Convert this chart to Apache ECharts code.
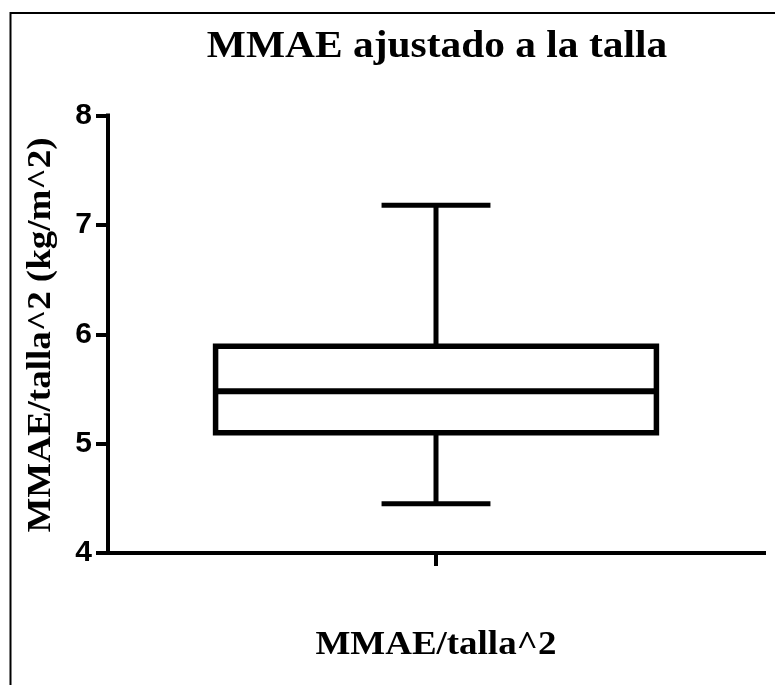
<!DOCTYPE html>
<html>
<head>
<meta charset="utf-8">
<script src="https://cdn.jsdelivr.net/npm/echarts@6/dist/echarts.min.js"></script>
<style>
  html, body { margin: 0; padding: 0; background: #fff; }
  #chart { width: 775px; height: 685px; }
</style>
</head>
<body>
<div id="chart"></div>
<script>
// Texts
const chartTitle = 'MMAE ajustado a la talla';
const yAxisTitle = 'MMAE/talla^2 (kg/m^2)';

// One column, summarised as a box-and-whisker (min to max)
const categories = ['MMAE/talla^2'];
const whiskerLow = [4.45];
const quartile1 = [5.10];
const medians = [5.48];
const quartile3 = [5.89];
const whiskerHigh = [7.18];

// Value axis
const yMin = 4;
const yMax = 8;
const yStep = 1;

const serif = '"Liberation Serif", "Times New Roman", serif';
const sans = '"Liberation Sans", Arial, sans-serif';
const textStretch = 1.12;   // wide lettering along the text direction

// Column i sits at x = i on a value axis spanning one unit per column
const boxData = categories.map((c, i) => [
  i, whiskerLow[i], quartile1[i], medians[i], quartile3[i], whiskerHigh[i]
]);
const columnPositions = categories.map((c, i) => i);

function renderBox(params, api) {
  const i = api.value(0);
  const band = api.size([1, 0])[0];
  const half = band * 0.336;
  const capHalf = band * 0.083;
  const pLow = api.coord([i, api.value(1)]);
  const pQ1 = api.coord([i, api.value(2)]);
  const pMed = api.coord([i, api.value(3)]);
  const pQ3 = api.coord([i, api.value(4)]);
  const pHigh = api.coord([i, api.value(5)]);
  const cx = pMed[0];
  const ink = { stroke: '#000', lineWidth: 5, fill: null };
  return {
    type: 'group',
    children: [
      { type: 'line', shape: { x1: cx, y1: pQ3[1], x2: cx, y2: pHigh[1] }, style: ink },
      { type: 'line', shape: { x1: cx, y1: pQ1[1], x2: cx, y2: pLow[1] }, style: ink },
      { type: 'line', shape: { x1: cx - capHalf, y1: pHigh[1], x2: cx + capHalf, y2: pHigh[1] }, style: ink },
      { type: 'line', shape: { x1: cx - capHalf, y1: pLow[1], x2: cx + capHalf, y2: pLow[1] }, style: ink },
      {
        type: 'rect',
        shape: { x: cx - half, y: pQ3[1], width: half * 2, height: pQ1[1] - pQ3[1] },
        style: { stroke: '#000', lineWidth: 5.5, fill: '#fff' }
      },
      { type: 'line', shape: { x1: cx - half, y1: pMed[1], x2: cx + half, y2: pMed[1] }, style: { stroke: '#000', lineWidth: 6 } }
    ]
  };
}

const chart = echarts.init(document.getElementById('chart'), null, { renderer: 'canvas' });

chart.setOption({
  animation: false,
  backgroundColor: '#fff',
  grid: { left: 108, right: 11, top: 115.5, bottom: 132, containLabel: false },
  xAxis: {
    type: 'value',
    min: -0.5,
    max: categories.length - 0.5,
    axisLine: { onZero: false, lineStyle: { color: '#000', width: 4, cap: 'square' } },
    axisTick: { show: true, customValues: columnPositions, length: 13, lineStyle: { color: '#000', width: 4 } },
    axisLabel: { show: false },
    splitLine: { show: false }
  },
  yAxis: {
    type: 'value',
    min: yMin,
    max: yMax,
    interval: yStep,
    axisLine: { show: true, onZero: false, lineStyle: { color: '#000', width: 4, cap: 'square' } },
    axisTick: { show: true, length: 12, lineStyle: { color: '#000', width: 4 } },
    axisLabel: {
      color: '#000', fontFamily: sans, fontWeight: 'bold', fontSize: 30, margin: 16,
      padding: [0, 0, 5, 0]
    },
    splitLine: { show: false }
  },
  series: [{
    type: 'custom',
    renderItem: renderBox,
    data: boxData,
    encode: { x: 0, y: [1, 2, 3, 4, 5] },
    z: 3
  }],
  graphic: [
    {
      type: 'rect', silent: true, z: -1,
      shape: { x: 10.5, y: 13, width: 800, height: 700 },
      style: { fill: 'none', stroke: '#000', lineWidth: 2 }
    },
    {
      type: 'text', x: 437, y: 47, scaleX: textStretch,
      style: { text: chartTitle, font: 'bold 37px ' + serif, fill: '#000', textAlign: 'center', textVerticalAlign: 'middle' }
    },
    {
      type: 'text', x: 436, y: 645, scaleX: textStretch,
      style: { text: categories[0], font: 'bold 33px ' + serif, fill: '#000', textAlign: 'center', textVerticalAlign: 'middle' }
    },
    {
      type: 'text', x: 41, y: 335, rotation: Math.PI / 2, scaleX: textStretch,
      style: { text: yAxisTitle, font: 'bold 33px ' + serif, fill: '#000', textAlign: 'center', textVerticalAlign: 'middle' }
    }
  ]
});
</script>
</body>
</html>
